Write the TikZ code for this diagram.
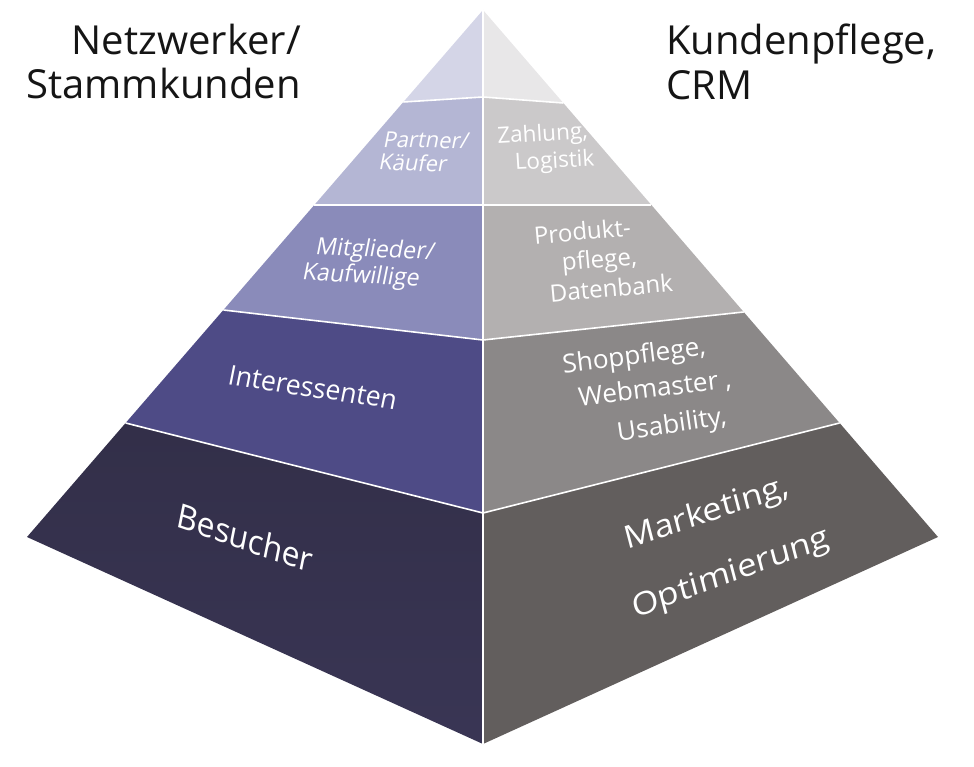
\documentclass[tikz,border=0pt]{standalone}
\usepackage{fontspec}
\setmainfont{Open Sans}
\definecolor{lA}{HTML}{D4D5E7}
\definecolor{lB}{HTML}{B4B6D4}
\definecolor{lC}{HTML}{8A8BBA}
\definecolor{lD}{HTML}{4E4B86}
\definecolor{lE}{HTML}{37334F}
\definecolor{rA}{HTML}{E8E7E8}
\definecolor{rB}{HTML}{CBC9CA}
\definecolor{rC}{HTML}{B3B0B0}
\definecolor{rD}{HTML}{8B8888}
\definecolor{rE}{HTML}{625E5D}
\definecolor{ink}{HTML}{151515}
\begin{document}
\begin{tikzpicture}[x=1pt,y=1pt,
  seam/.style={draw=white,line width=1.6pt,line join=round},
  toplbl/.style={text=ink,inner sep=0pt,font=\fontsize{40}{44}\selectfont},
  llbl/.style={text=white,inner sep=0pt,anchor=base,xslant=0.2},
  rlbl/.style={text=white,inner sep=0pt,anchor=base}]
\useasboundingbox (0,0) rectangle (974,-767);
% corners
\coordinate (A) at (483,-10);
\coordinate (L) at (27,-537);
\coordinate (B) at (483,-744);
\coordinate (R) at (938,-537);
\coordinate (l1) at (403.4,-102); \coordinate (c1) at (483,-97);  \coordinate (r1) at (563.3,-103);
\coordinate (l2) at (314.3,-205); \coordinate (c2) at (483,-205); \coordinate (r2) at (651.4,-205);
\coordinate (l3) at (223.4,-310); \coordinate (c3) at (483,-340); \coordinate (r3) at (743.7,-312);
\coordinate (l4) at (125.6,-423); \coordinate (c4) at (483,-513); \coordinate (r4) at (839.6,-423);
% left face
\fill[lA] (A) -- (l1) -- (c1) -- cycle;
\fill[lB] (l1) -- (l2) -- (c2) -- (c1) -- cycle;
\fill[lC] (l2) -- (l3) -- (c3) -- (c2) -- cycle;
\fill[lD] (l3) -- (l4) -- (c4) -- (c3) -- cycle;
\shade[top color=lE!92!black, bottom color=lE!90!lD] (l4) -- (L) -- (B) -- (c4) -- cycle;
% right face
\fill[rA] (A) -- (r1) -- (c1) -- cycle;
\fill[rB] (r1) -- (r2) -- (c2) -- (c1) -- cycle;
\fill[rC] (r2) -- (r3) -- (c3) -- (c2) -- cycle;
\fill[rD] (r3) -- (r4) -- (c4) -- (c3) -- cycle;
\fill[rE] (r4) -- (R) -- (B) -- (c4) -- cycle;
% seams
\draw[seam] (l1) -- (c1) -- (r1);
\draw[seam] (l2) -- (c2) -- (r2);
\draw[seam] (l3) -- (c3) -- (r3);
\draw[seam] (l4) -- (c4) -- (r4);
\draw[seam] (A) -- (B);
% top labels
\node[toplbl,anchor=base east] (nw1) at (301,-55) {Netzwerker/};
\node[toplbl,anchor=base east] (nw2) at (301,-99) {Stammkunden};
\node[toplbl,anchor=base west] (kp1) at (666,-55) {Kundenpflege,};
\node[toplbl,anchor=base west] (kp2) at (666,-100) {CRM};
% left face labels
\node[llbl,yslant=-0.02,font=\fontsize{22}{24}\selectfont] (p1) at (425,-148) {Partner/};
\node[llbl,yslant=-0.03,font=\fontsize{22}{24}\selectfont] (p2) at (412,-171) {Käufer};
\node[llbl,yslant=-0.04,font=\fontsize{23.5}{25}\selectfont] (m1) at (374,-257) {Mitglieder/};
\node[llbl,yslant=-0.06,font=\fontsize{23.5}{25}\selectfont] (m2) at (360,-283) {Kaufwillige};
\node[llbl,yslant=-0.145,font=\fontsize{27}{30}\selectfont] (in) at (311,-397) {Interessenten};
\node[llbl,yslant=-0.32,font=\fontsize{33}{36}\selectfont] (be) at (243,-550) {Besucher};
% right face labels
\node[rlbl,yslant=0.06,xslant=-0.06,font=\fontsize{22.5}{25}\selectfont] (z1) at (543,-141) {Zahlung,};
\node[rlbl,yslant=0.05,xslant=-0.06,font=\fontsize{22.5}{25}\selectfont] (z2) at (555,-168) {Logistik};
\node[rlbl,yslant=0.09,xslant=-0.09,font=\fontsize{24}{26}\selectfont] (d1) at (583,-240) {Produkt-};
\node[rlbl,yslant=0.08,xslant=-0.09,font=\fontsize{24}{26}\selectfont] (d2) at (600,-268) {pflege,};
\node[rlbl,yslant=0.09,xslant=-0.09,font=\fontsize{24}{26}\selectfont] (d3) at (612,-297) {Datenbank};
\node[rlbl,yslant=0.13,xslant=-0.12,font=\fontsize{26}{28}\selectfont] (s1) at (635,-364) {Shoppflege,};
\node[rlbl,yslant=0.12,xslant=-0.12,font=\fontsize{26}{28}\selectfont] (s2) at (656,-397) {Webmaster ,};
\node[rlbl,yslant=0.16,xslant=-0.14,font=\fontsize{26}{28}\selectfont] (s3) at (673,-433) {Usability,};
\node[rlbl,yslant=0.34,xslant=-0.24,font=\fontsize{33}{36}\selectfont] (mk1) at (709,-522) {Marketing,};
\node[rlbl,yslant=0.37,xslant=-0.24,font=\fontsize{33}{36}\selectfont] (mk2) at (733,-582) {Optimierung};
\end{tikzpicture}
\end{document}
